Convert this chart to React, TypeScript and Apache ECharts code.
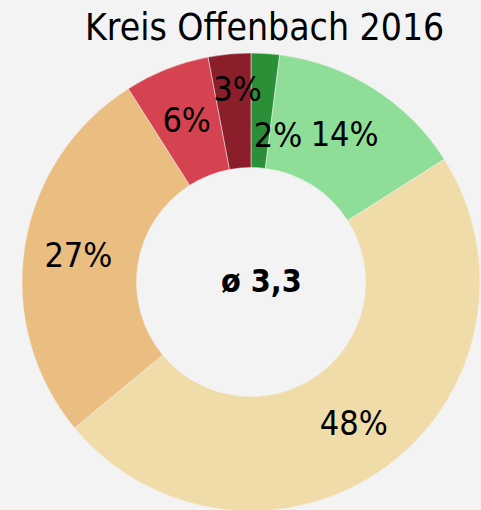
import React, { useEffect, useRef } from "react";
import * as echarts from "echarts";

const categories = ["1", "2", "3", "4", "5", "6"];
const values = [2, 14, 48, 27, 6, 3];
const colors = ["#2a8f37", "#8fde97", "#f0dca8", "#eabd80", "#d54351", "#8b1e2b"];
const titleText = "Kreis Offenbach 2016";
const centerText = "ø 3,3";

export default function App() {
  const ref = useRef<HTMLDivElement>(null);
  useEffect(() => {
    const chart = echarts.init(ref.current!, null, { renderer: "svg" });
    const font = "'DejaVu Sans Condensed', 'DejaVu Sans', sans-serif";
    chart.setOption({
      animation: false,
      backgroundColor: "#f3f3f3",
      title: {
        text: titleText,
        left: 80,
        top: 4,
        textStyle: { fontFamily: font, fontSize: 37, fontWeight: "normal", color: "#000" },
      },
      graphic: [
        {
          type: "text",
          left: 221,
          top: 265,
          style: { text: centerText, fontFamily: font, fontSize: 32, fontWeight: "bold", fill: "#000" },
        },
      ],
      series: [
        {
          type: "pie",
          center: [251, 282],
          radius: [114.5, 229],
          startAngle: 90,
          clockwise: true,
          avoidLabelOverlap: false,
          itemStyle: { borderColor: "#f3f3f3", borderWidth: 0.5 },
          label: {
            show: true,
            position: "inside",
            formatter: "{c}%",
            fontFamily: font,
            fontSize: 34,
            color: "#000",
          },
          labelLayout: (p: any) => {
            if (p.dataIndex === 0) return { dx: 16, dy: 27 };
            if (p.dataIndex === 5) return { dx: 3, dy: -19 };
            return {};
          },
          emphasis: { disabled: true },
          data: values.map((v, i) => ({ name: categories[i], value: v, itemStyle: { color: colors[i] } })),
        },
      ],
    });
    return () => chart.dispose();
  }, []);
  return <div ref={ref} style={{ width: 481, height: 510, position: "absolute", left: 0, top: 0 }} />;
}
